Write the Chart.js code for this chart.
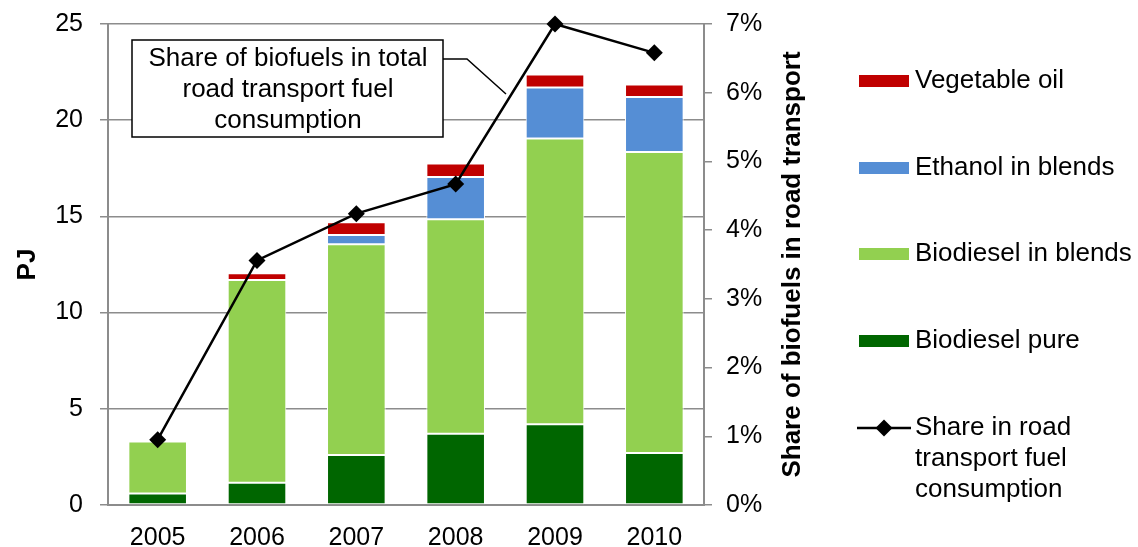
<!DOCTYPE html>
<html>
<head>
<meta charset="utf-8">
<script src="https://cdn.jsdelivr.net/npm/chart.js@4.4.1/dist/chart.umd.min.js"></script>
<style>
html, body { margin: 0; padding: 0; background: #fff; }
#wrap { width: 1138px; height: 547px; position: relative; }
</style>
</head>
<body>
<div id="wrap"><canvas id="myChart"></canvas></div>
<script>
// data (PJ, and % for the line)
var years = ['2005', '2006', '2007', '2008', '2009', '2010']
var biodieselPure = [0.6, 1.15, 2.6, 3.7, 4.2, 2.7]
var biodieselBlends = [2.7, 10.55, 10.95, 11.15, 14.85, 15.65]
var ethanolBlends = [0, 0, 0.48, 2.2, 2.65, 2.85]
var vegetableOil = [0, 0.35, 0.66, 0.7, 0.68, 0.65]
var roadShare = [0.95, 3.56, 4.24, 4.67, 7.0, 6.58]
var leftTicks = [0, 5, 10, 15, 20, 25]
var rightTicks = [0, 1, 2, 3, 4, 5, 6, 7]

var font = '"Liberation Sans", Arial, sans-serif'
var gray = '#8c8c8c'

// annotation box, right axis title and the legend are drawn here
var extras = {
  id: 'extras',
  afterDraw: function (chart) {
    var ctx = chart.ctx
    var area = chart.chartArea
    ctx.save()

    // callout box
    ctx.fillStyle = '#fff'
    ctx.fillRect(132, 40, 311, 97)
    ctx.strokeStyle = '#000'
    ctx.lineWidth = 1.5
    ctx.strokeRect(132, 40, 311, 97)
    ctx.beginPath()
    ctx.moveTo(443, 59)
    ctx.lineTo(467, 59)
    ctx.lineTo(506, 94)
    ctx.stroke()
    ctx.fillStyle = '#000'
    ctx.font = '26px ' + font
    ctx.textAlign = 'center'
    ctx.textBaseline = 'middle'
    ctx.fillText('Share of biofuels in total', 288, 59)
    ctx.fillText('road transport fuel', 288, 90)
    ctx.fillText('consumption', 288, 121)

    // right axis title, reading upward
    ctx.save()
    ctx.translate(793, (area.top + area.bottom) / 2)
    ctx.rotate(-Math.PI / 2)
    ctx.font = 'bold 26px ' + font
    ctx.fillText('Share of biofuels in road transport', 0, 0)
    ctx.restore()

    // legend
    var rows = [
      { label: ['Vegetable oil'], color: '#c00000', y: 81 },
      { label: ['Ethanol in blends'], color: '#558ed5', y: 168 },
      { label: ['Biodiesel in blends'], color: '#92d050', y: 254 },
      { label: ['Biodiesel pure'], color: '#006600', y: 341 },
      { label: ['Share in road', 'transport fuel', 'consumption'], line: true, y: 428 }
    ]
    ctx.textAlign = 'left'
    ctx.font = '26px ' + font
    rows.forEach(function (r) {
      if (r.line) {
        ctx.strokeStyle = '#000'
        ctx.lineWidth = 2.5
        ctx.beginPath()
        ctx.moveTo(857, r.y)
        ctx.lineTo(911, r.y)
        ctx.stroke()
        ctx.fillStyle = '#000'
        ctx.beginPath()
        ctx.moveTo(884, r.y - 8.5)
        ctx.lineTo(892.5, r.y)
        ctx.lineTo(884, r.y + 8.5)
        ctx.lineTo(875.5, r.y)
        ctx.closePath()
        ctx.fill()
      } else {
        ctx.fillStyle = r.color
        ctx.fillRect(859, r.y - 6, 50, 12)
      }
      ctx.fillStyle = '#000'
      r.label.forEach(function (t, i) {
        ctx.fillText(t, 915, r.y + i * 31)
      })
    })
    ctx.restore()
  }
}

// keep the plot area where the picture has it
function noPad(s) {
  s.paddingTop = 0
  s.paddingBottom = 0
}

var ctx = document.getElementById('myChart').getContext('2d')
var myChart = new Chart(ctx, {
  type: 'bar',
  data: {
    labels: years,
    datasets: [
      {
        type: 'line',
        label: 'Share in road transport fuel consumption',
        data: roadShare,
        yAxisID: 'y1',
        borderColor: '#000',
        backgroundColor: '#000',
        borderWidth: 2.5,
        pointStyle: 'rectRot',
        pointRadius: 8.5,
        pointBackgroundColor: '#000',
        pointBorderWidth: 0,
        tension: 0,
        clip: false,
        order: 0
      },
      { label: 'Biodiesel pure', data: biodieselPure, backgroundColor: '#006600', order: 1 },
      { label: 'Biodiesel in blends', data: biodieselBlends, backgroundColor: '#92d050', order: 1 },
      { label: 'Ethanol in blends', data: ethanolBlends, backgroundColor: '#558ed5', order: 1 },
      { label: 'Vegetable oil', data: vegetableOil, backgroundColor: '#c00000', order: 1 }
    ]
  },
  options: {
    responsive: true,
    maintainAspectRatio: false,
    animation: false,
    datasets: {
      bar: {
        borderColor: '#fff',
        borderWidth: 1,
        borderSkipped: false,
        barPercentage: 0.59,
        categoryPercentage: 1
      }
    },
    layout: { padding: { top: 24, right: 323, bottom: 0, left: 0 } },
    plugins: {
      legend: { display: false },
      tooltip: { enabled: false }
    },
    scales: {
      x: {
        stacked: true,
        grid: { display: false, drawTicks: false },
        border: { color: gray, width: 2 },
        ticks: { color: '#000', font: { family: font, size: 25 }, padding: 18 },
        afterFit: function (s) { s.height = 42 }
      },
      y: {
        stacked: true,
        position: 'left',
        min: 0,
        max: 25,
        afterBuildTicks: function (s) { s.ticks = leftTicks.map(function (v) { return { value: v } }) },
        grid: { color: gray, lineWidth: 1.5, tickLength: 8 },
        border: { color: gray, width: 2 },
        ticks: { color: '#000', font: { family: font, size: 25 }, padding: 17 },
        title: { display: true, text: 'PJ', color: '#000', font: { family: font, size: 26, weight: 'bold' }, padding: { top: 12, bottom: 0 } },
        afterFit: function (s) { s.width = 108; noPad(s) }
      },
      y1: {
        position: 'right',
        min: 0,
        max: 7,
        afterBuildTicks: function (s) { s.ticks = rightTicks.map(function (v) { return { value: v } }) },
        grid: { drawOnChartArea: false, color: gray, lineWidth: 1.5, tickLength: 8 },
        border: { color: gray, width: 2 },
        ticks: {
          color: '#000',
          font: { family: font, size: 25 },
          padding: 14,
          callback: function (v) { return v + '%' }
        },
        afterFit: function (s) { s.width = 111; noPad(s) }
      }
    }
  },
  plugins: [extras]
})
</script>
</body>
</html>
